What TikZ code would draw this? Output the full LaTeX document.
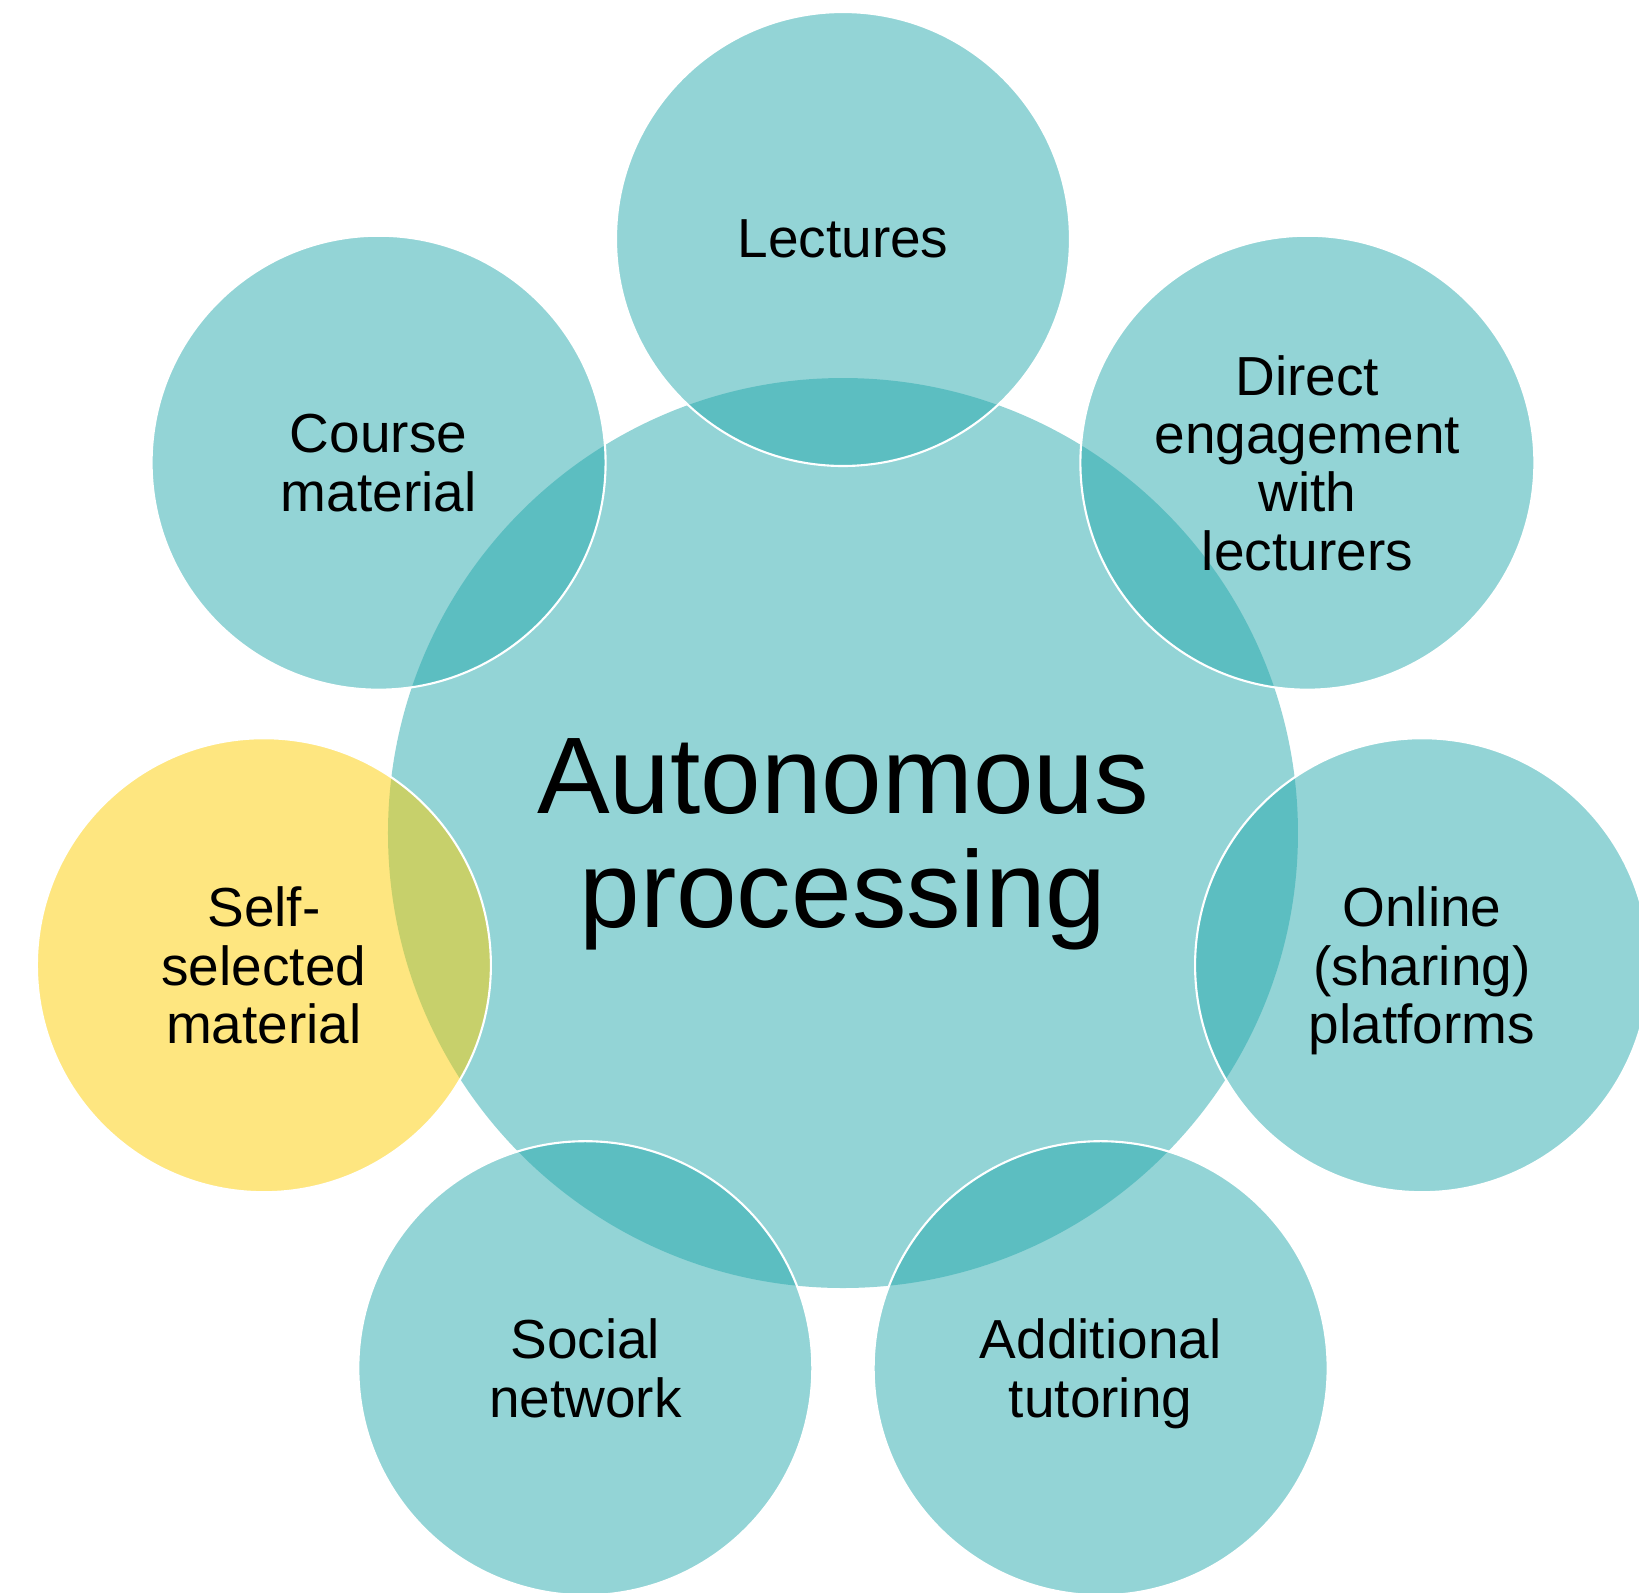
\documentclass[tikz,border=0pt]{standalone}
\usepackage{fontspec}
\setmainfont{Liberation Sans}
\definecolor{tealbase}{RGB}{39,169,173}
\definecolor{sunbase}{RGB}{253,205,1}
\begin{document}
\begin{tikzpicture}[
  shade50/.style={fill opacity=0.5, text opacity=1},
  hubdisc/.style={circle, minimum size=9.1cm, inner sep=0pt, fill=tealbase, shade50,
    align=center, text depth=0pt, font=\fontsize{31pt}{32.2pt}\selectfont},
  bubble/.style={circle, minimum size=4.54cm, inner sep=0pt, fill=tealbase, shade50,
    draw=white, line width=0.6pt, align=center, text depth=0pt,
    font=\fontsize{15.65pt}{16.6pt}\selectfont},
  sunbubble/.style={bubble, fill=sunbase}
]
\useasboundingbox (-8.43,-7.59) rectangle (7.96,8.33);
\clip (-8.43,-7.59) rectangle (7.96,8.33);

% central topic
\node[hubdisc] (hub) at (0,0) {Autonomous\\processing};

% seven sources, evenly spaced round the centre
\node[bubble]    (lectures) at (90:5.94)     {Lectures};
\node[bubble]    (course)   at (141.43:5.94) {Course\\material};
\node[sunbubble] (selfsel)  at (192.86:5.94) {Self-\\selected\\material};
\node[bubble]    (social)   at (244.29:5.94) {Social\\network};
\node[bubble]    (tutoring) at (295.71:5.94) {Additional\\tutoring};
\node[bubble]    (online)   at (347.14:5.94) {Online\\(sharing)\\platforms};
\node[bubble]    (direct)   at (38.57:5.94)  {Direct\\engagement\\with\\lecturers};
\end{tikzpicture}
\end{document}
